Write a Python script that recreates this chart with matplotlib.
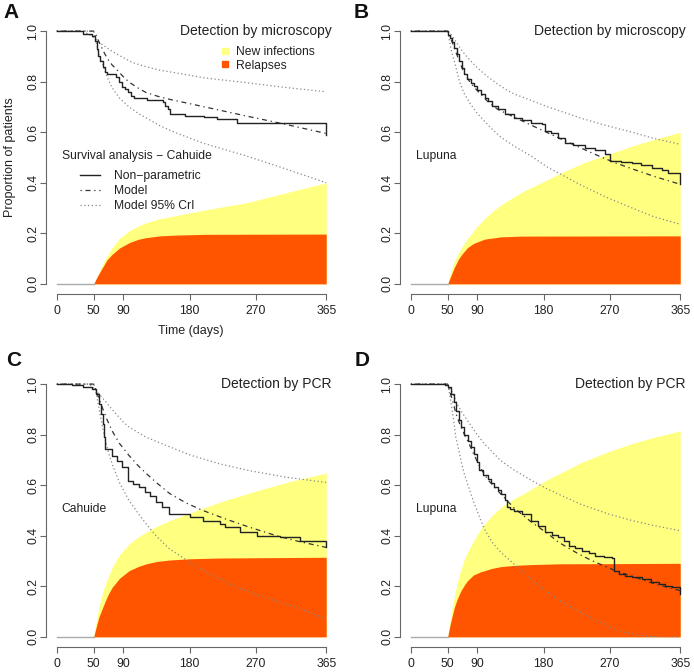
import matplotlib
matplotlib.use("Agg")
import matplotlib.pyplot as plt
from matplotlib.lines import Line2D

plt.rcParams['font.family'] = ['Liberation Sans', 'DejaVu Sans']

W, H = 694, 672

x_ticks = [0, 50, 90, 180, 270, 365]
y_ticks = [0.0, 0.2, 0.4, 0.6, 0.8, 1.0]
y_tick_labels = ["0.0", "0.2", "0.4", "0.6", "0.8", "1.0"]

# ---- A: microscopy, Cahuide
a_km_t = [0, 35, 48, 52, 54, 56, 58, 62, 65, 68, 80, 84, 88, 92, 96, 100, 104, 122, 144, 147, 150, 153,
          174, 199, 217, 244, 365, 365]
a_km_s = [1.0, 0.99, 0.98, 0.96, 0.93, 0.90, 0.88, 0.86, 0.84, 0.83, 0.82, 0.80, 0.78, 0.77, 0.76, 0.745,
          0.735, 0.728, 0.72, 0.705, 0.69, 0.673, 0.665, 0.66, 0.652, 0.636, 0.636, 0.59]
a_mod_t = [0, 50, 53, 56, 60, 65, 70, 75, 82, 90, 98, 110, 121, 137, 153, 180, 210, 257, 307, 365]
a_mod_s = [1, 1, 0.985, 0.965, 0.94, 0.91, 0.885, 0.866, 0.845, 0.82, 0.798, 0.775, 0.757, 0.742, 0.73,
           0.713, 0.694, 0.664, 0.633, 0.595]
a_hi_t = [0, 35, 48, 60, 75, 90, 103, 120, 140, 161, 200, 257, 310, 365]
a_hi_s = [1, 1, 0.98, 0.95, 0.92, 0.895, 0.875, 0.86, 0.845, 0.835, 0.815, 0.796, 0.777, 0.76]
a_lo_t = [0, 50, 53, 57, 62, 68, 75, 85, 98, 110, 121, 140, 161, 200, 257, 310, 365]
a_lo_s = [1, 1, 0.96, 0.91, 0.87, 0.82, 0.776, 0.735, 0.70, 0.675, 0.657, 0.625, 0.598, 0.555, 0.506,
          0.455, 0.40]
a_new_t = [0, 50, 55, 62, 68, 75, 85, 98, 110, 121, 140, 161, 200, 257, 310, 365]
a_new_s = [0, 0, 0.03, 0.078, 0.11, 0.144, 0.18, 0.21, 0.228, 0.242, 0.258, 0.27, 0.292, 0.321, 0.36, 0.40]
a_rel_t = [0, 50, 55, 62, 68, 75, 85, 98, 110, 121, 140, 161, 200, 365]
a_rel_s = [0, 0, 0.03, 0.065, 0.095, 0.117, 0.142, 0.163, 0.176, 0.183, 0.19, 0.193, 0.196, 0.197]

# ---- B: microscopy, Lupuna
b_km_t = [0, 50, 53, 56, 59, 62, 66, 69, 72, 76, 81, 86, 90, 95, 100, 104, 110, 118, 127, 140, 150, 163,
          178, 182, 190, 200, 209, 220, 236, 250, 263, 270, 285, 299, 312, 327, 340, 349, 365, 365]
b_km_s = [1.0, 0.985, 0.974, 0.955, 0.934, 0.91, 0.881, 0.855, 0.829, 0.81, 0.796, 0.782, 0.769, 0.752,
          0.737, 0.723, 0.705, 0.69, 0.671, 0.657, 0.648, 0.636, 0.631, 0.605, 0.595, 0.578, 0.559, 0.55,
          0.539, 0.528, 0.513, 0.486, 0.482, 0.478, 0.47, 0.46, 0.452, 0.44, 0.44, 0.394]
b_mod_t = [0, 50, 55, 60, 66, 72, 81, 90, 104, 118, 140, 163, 186, 209, 231, 257, 277, 300, 330, 365]
b_mod_s = [1, 1, 0.965, 0.925, 0.88, 0.835, 0.795, 0.765, 0.722, 0.69, 0.66, 0.628, 0.597, 0.566, 0.537,
           0.503, 0.479, 0.455, 0.425, 0.394]
b_hi_t = [0, 50, 55, 62, 70, 77, 90, 104, 118, 131, 141, 155, 186, 209, 231, 263, 300, 330, 365]
b_hi_s = [1, 1, 0.985, 0.955, 0.92, 0.895, 0.855, 0.82, 0.79, 0.765, 0.75, 0.735, 0.70, 0.677, 0.655,
          0.628, 0.60, 0.575, 0.552]
b_lo_t = [0, 50, 52, 54, 57, 60, 66, 72, 80, 90, 100, 110, 122, 140, 163, 186, 209, 231, 263, 300, 330, 365]
b_lo_s = [1, 1, 0.97, 0.935, 0.9, 0.87, 0.8, 0.755, 0.715, 0.675, 0.643, 0.613, 0.58, 0.545, 0.506, 0.46,
          0.425, 0.39, 0.345, 0.3, 0.265, 0.236]
b_new_t = [0, 50, 53, 56, 60, 65, 70, 77, 90, 100, 110, 122, 140, 155, 180, 204, 235, 270, 310, 365]
b_new_s = [0, 0, 0.035, 0.065, 0.095, 0.125, 0.15, 0.18, 0.228, 0.258, 0.285, 0.312, 0.345, 0.37, 0.405,
           0.44, 0.48, 0.515, 0.555, 0.60]
b_rel_t = [0, 50, 54, 59, 65, 70, 77, 85, 100, 122, 150, 365]
b_rel_s = [0, 0, 0.03, 0.065, 0.1, 0.12, 0.144, 0.16, 0.177, 0.186, 0.189, 0.19]

# ---- C: PCR, Cahuide
c_km_t = [0, 20, 35, 48, 53, 57, 60, 62, 64, 66, 75, 82, 89, 96, 103, 112, 119, 126, 134, 143, 152, 180,
          198, 221, 228, 248, 271, 303, 330, 365, 365]
c_km_s = [1.0, 0.996, 0.987, 0.98, 0.96, 0.92, 0.88, 0.842, 0.79, 0.743, 0.717, 0.697, 0.671, 0.618, 0.605,
          0.592, 0.575, 0.559, 0.532, 0.512, 0.486, 0.473, 0.46, 0.447, 0.433, 0.414, 0.40, 0.394, 0.381,
          0.381, 0.354]
c_mod_t = [0, 50, 55, 62, 68, 75, 85, 98, 110, 121, 135, 153, 175, 198, 230, 262, 300, 330, 365]
c_mod_s = [1, 1, 0.96, 0.905, 0.86, 0.815, 0.765, 0.717, 0.678, 0.647, 0.61, 0.567, 0.53, 0.50, 0.465,
           0.433, 0.398, 0.376, 0.354]
c_hi_t = [0, 44, 55, 62, 75, 90, 98, 121, 152, 180, 220, 262, 310, 365]
c_hi_s = [1, 1, 0.97, 0.945, 0.9, 0.85, 0.83, 0.79, 0.753, 0.72, 0.685, 0.657, 0.632, 0.611]
c_lo_t = [0, 50, 53, 57, 62, 66, 70, 75, 85, 98, 110, 121, 135, 152, 180, 210, 244, 280, 311, 340, 365]
c_lo_s = [1, 1, 0.97, 0.908, 0.83, 0.776, 0.73, 0.684, 0.61, 0.539, 0.49, 0.447, 0.398, 0.35, 0.295, 0.245,
          0.196, 0.158, 0.13, 0.1, 0.071]
c_new_t = [0, 50, 53, 57, 62, 66, 70, 75, 85, 98, 110, 121, 135, 153, 180, 226, 271, 316, 365]
c_new_s = [0, 0, 0.055, 0.117, 0.175, 0.21, 0.24, 0.275, 0.325, 0.368, 0.395, 0.414, 0.437, 0.46, 0.49,
           0.538, 0.578, 0.615, 0.648]
c_rel_t = [0, 50, 53, 57, 62, 66, 70, 75, 85, 98, 110, 121, 135, 152, 180, 220, 365]
c_rel_s = [0, 0, 0.035, 0.078, 0.115, 0.144, 0.17, 0.196, 0.232, 0.262, 0.278, 0.289, 0.298, 0.304, 0.309,
           0.312, 0.315]

# ---- D: PCR, Lupuna
d_km_t = [0, 47, 50, 54, 58, 61, 65, 68, 72, 77, 82, 86, 90, 93, 98, 104, 108, 113, 118, 122, 127, 131,
          135, 140, 150, 163, 172, 182, 191, 200, 207, 214, 223, 232, 241, 250, 262, 272, 275, 282, 290,
          300, 313, 325, 336, 345, 354, 365, 365]
d_km_s = [1.0, 0.998, 0.99, 0.96, 0.93, 0.895, 0.86, 0.829, 0.80, 0.776, 0.75, 0.723, 0.69, 0.66, 0.64,
          0.625, 0.61, 0.592, 0.58, 0.565, 0.54, 0.513, 0.505, 0.499, 0.487, 0.46, 0.44, 0.414, 0.405,
          0.394, 0.378, 0.361, 0.35, 0.341, 0.33, 0.321, 0.317, 0.314, 0.262, 0.25, 0.242, 0.235, 0.229,
          0.218, 0.209, 0.2, 0.196, 0.186, 0.17]
d_mod_t = [0, 50, 54, 58, 61, 66, 72, 77, 85, 94, 105, 122, 140, 163, 185, 200, 225, 245, 277, 300, 330, 365]
d_mod_s = [1, 1, 0.96, 0.92, 0.885, 0.845, 0.805, 0.776, 0.725, 0.67, 0.62, 0.565, 0.51, 0.455, 0.41,
           0.375, 0.332, 0.302, 0.262, 0.24, 0.21, 0.183]
d_hi_t = [0, 50, 55, 63, 70, 77, 90, 100, 122, 140, 163, 185, 200, 230, 268, 300, 330, 365]
d_hi_s = [1, 1, 0.975, 0.92, 0.885, 0.855, 0.8, 0.763, 0.697, 0.66, 0.62, 0.585, 0.565, 0.525, 0.486,
          0.46, 0.44, 0.42]
d_lo_t = [0, 50, 52, 54, 58, 61, 65, 68, 72, 77, 85, 95, 100, 110, 122, 141, 155, 170, 186, 200, 231, 245,
          277, 290, 310, 330, 365]
d_lo_s = [1, 1, 0.97, 0.934, 0.86, 0.79, 0.74, 0.697, 0.65, 0.605, 0.535, 0.46, 0.425, 0.375, 0.335,
          0.285, 0.25, 0.21, 0.175, 0.145, 0.096, 0.075, 0.03, 0.018, 0.006, 0.001, 0.0]
d_new_t = [0, 50, 52, 55, 59, 63, 68, 73, 77, 85, 95, 100, 110, 122, 141, 155, 186, 200, 231, 268, 300,
           330, 365]
d_new_s = [0, 0, 0.04, 0.1, 0.16, 0.215, 0.268, 0.31, 0.335, 0.38, 0.428, 0.447, 0.48, 0.513, 0.548, 0.57,
           0.624, 0.644, 0.69, 0.733, 0.765, 0.79, 0.815]
d_rel_t = [0, 50, 52, 55, 59, 63, 68, 73, 77, 85, 95, 100, 110, 122, 141, 163, 200, 365]
d_rel_s = [0, 0, 0.03, 0.07, 0.117, 0.15, 0.183, 0.207, 0.223, 0.245, 0.258, 0.262, 0.271, 0.278, 0.283,
           0.286, 0.289, 0.291]

panels = [
    dict(letter="A", title="Detection by microscopy", site="Survival analysis \u2212 Cahuide",
         box=(46, 21, 337, 294), letter_xy=(3, 13),
         km=(a_km_t, a_km_s), mod=(a_mod_t, a_mod_s), hi=(a_hi_t, a_hi_s), lo=(a_lo_t, a_lo_s),
         new=(a_new_t, a_new_s), rel=(a_rel_t, a_rel_s)),
    dict(letter="B", title="Detection by microscopy", site="Lupuna",
         box=(400, 21, 691, 294), letter_xy=(354, 13),
         km=(b_km_t, b_km_s), mod=(b_mod_t, b_mod_s), hi=(b_hi_t, b_hi_s), lo=(b_lo_t, b_lo_s),
         new=(b_new_t, b_new_s), rel=(b_rel_t, b_rel_s)),
    dict(letter="C", title="Detection by PCR", site="Cahuide",
         box=(46, 374, 337, 647), letter_xy=(6, 360),
         km=(c_km_t, c_km_s), mod=(c_mod_t, c_mod_s), hi=(c_hi_t, c_hi_s), lo=(c_lo_t, c_lo_s),
         new=(c_new_t, c_new_s), rel=(c_rel_t, c_rel_s)),
    dict(letter="D", title="Detection by PCR", site="Lupuna",
         box=(400, 374, 691, 647), letter_xy=(355, 360),
         km=(d_km_t, d_km_s), mod=(d_mod_t, d_mod_s), hi=(d_hi_t, d_hi_s), lo=(d_lo_t, d_lo_s),
         new=(d_new_t, d_new_s), rel=(d_rel_t, d_rel_s)),
]

YELLOW = "#FFFF80"
ORANGE = "#FF5500"
AXCOL = "#666666"
TXT = "#222222"
FS = 8.7

fig = plt.figure(figsize=(W / 100, H / 100), dpi=100)

for p in panels:
    l, t, r, b = p["box"]
    ax = fig.add_axes([l / W, 1 - b / H, (r - l) / W, (b - t) / H])
    ax.set_xlim(-14.6, 379.6)
    ax.set_ylim(-0.04, 1.04)

    # stacked areas: new infections (yellow) behind relapses (orange)
    ax.fill_between(p["new"][0], 0, p["new"][1], color=YELLOW, lw=0, zorder=1)
    ax.fill_between(p["rel"][0], 0, p["rel"][1], color=ORANGE, lw=0, zorder=2)
    ax.plot(p["rel"][0][:2], p["rel"][1][:2], color="#aaaaaa", lw=1, zorder=2)

    ax.plot(*p["hi"], color="#888888", lw=0.9, ls=(0, (1, 2)), zorder=3)
    ax.plot(*p["lo"], color="#888888", lw=0.9, ls=(0, (1, 2)), zorder=3)
    ax.plot(*p["mod"], color="#333333", lw=0.9, ls=(0, (1, 3, 4, 3)), zorder=4)
    ax.plot(*p["km"], color="#222222", lw=1.0, drawstyle="steps-post", zorder=5)

    for side in ["top", "right"]:
        ax.spines[side].set_visible(False)
    ax.spines["left"].set_bounds(0, 1)
    ax.spines["bottom"].set_bounds(0, 365)
    for side in ["left", "bottom"]:
        ax.spines[side].set_color(AXCOL)
        ax.spines[side].set_linewidth(0.8)
    ax.set_xticks(x_ticks)
    ax.set_yticks(y_ticks)
    ax.set_yticklabels(y_tick_labels)
    ax.tick_params(length=4, width=0.8, color=AXCOL, labelcolor=TXT, labelsize=FS)
    ax.tick_params(axis="x", pad=4)
    ax.tick_params(axis="y", pad=1)
    for lbl in ax.get_yticklabels():
        lbl.set_rotation(90)
        lbl.set_va("center")

    ax.text(372, 1.0, p["title"], ha="right", va="center", fontsize=10, color=TXT)
    ax.text(6.8, 0.506, p["site"], ha="left", va="center", fontsize=FS, color=TXT)
    fig.text(p["letter_xy"][0] / W, 1 - p["letter_xy"][1] / H, p["letter"], ha="left", va="center",
             fontsize=15, fontweight="bold", color="#111111")

    if p["letter"] == "A":
        h1 = [Line2D([], [], marker="s", ls="none", color=YELLOW, markersize=5),
              Line2D([], [], marker="s", ls="none", color=ORANGE, markersize=5)]
        fig.legend(h1, ["New infections", "Relapses"], loc="upper left",
                   bbox_to_anchor=(220 / W, 1 - 46 / H), bbox_transform=fig.transFigure,
                   frameon=False, fontsize=FS, handlelength=0.8, handletextpad=0.56,
                   borderpad=0, borderaxespad=0, labelspacing=0.14, labelcolor=TXT)
        h2 = [Line2D([], [], color="#222222", lw=1.0),
              Line2D([], [], color="#333333", lw=0.9, ls=(0, (1, 3, 4, 3))),
              Line2D([], [], color="#888888", lw=0.9, ls=(0, (1, 2)))]
        fig.legend(h2, ["Non\u2212parametric", "Model", "Model 95% CrI"], loc="upper left",
                   bbox_to_anchor=(80 / W, 1 - 170 / H), bbox_transform=fig.transFigure,
                   frameon=False, fontsize=FS, handlelength=1.65, handletextpad=1.16,
                   borderpad=0, borderaxespad=0, labelspacing=0.24, labelcolor=TXT)

fig.text(10 / W, 1 - 157 / H, "Proportion of patients", rotation=90, ha="center", va="center",
         fontsize=9, color=TXT)
fig.text(191 / W, 1 - 331 / H, "Time (days)", ha="center", va="center", fontsize=9, color=TXT)

fig.savefig("out.png", dpi=100)
